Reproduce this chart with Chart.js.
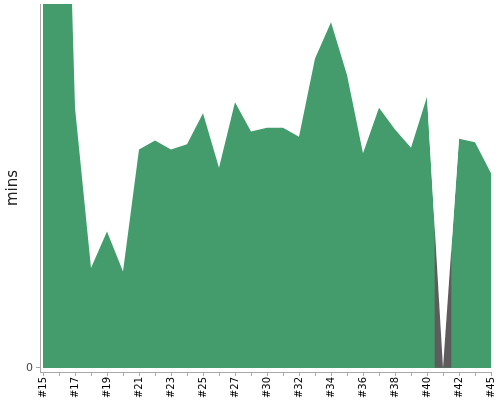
<!DOCTYPE html>
<html>
<head>
<meta charset="utf-8">
<script src="https://cdn.jsdelivr.net/npm/chart.js@4/dist/chart.umd.min.js"></script>
<style>
  html, body { margin: 0; padding: 0; background: #fff; }
  #wrap { width: 500px; height: 400px; }
</style>
</head>
<body>
<div id="wrap"><canvas id="trend" width="500" height="400"></canvas></div>
<script>
// build numbers on the x axis
const builds = ['#15', '#16', '#17', '#18', '#19', '#20', '#21', '#22', '#23', '#24',
  '#25', '#26', '#27', '#28', '#30', '#31', '#32', '#33', '#34', '#35',
  '#36', '#37', '#38', '#39', '#40', '#41', '#42', '#43', '#45'];

// build duration (mins) of successful builds
const buildMins = [40, 45, 14.3, 5.5, 7.5, 5.3, 12.0, 12.5, 12.0, 12.3,
  14.0, 11.0, 14.6, 13.0, 13.2, 13.2, 12.7, 17.0, 19.0, 16.1,
  11.8, 14.3, 13.1, 12.1, 14.9, 0, 12.6, 12.4, 10.7];

// aborted build (grey)
const abortedMins = [null, null, null, null, null, null, null, null, null, null,
  null, null, null, null, null, null, null, null, null, null,
  null, null, null, null, null, 9, null, null, null];

const yMax = 20;
const yMin = -0.22;

// white mask above the line around the aborted build
const maskMins = buildMins.map((v, i) => (i >= 24 && i <= 26) ? v : null);

const axisGrey = '#a8a8a8';

new Chart(document.getElementById('trend'), {
  type: 'line',
  data: {
    labels: builds,
    datasets: [
      {
        data: maskMins,
        backgroundColor: '#ffffff',
        fill: 'end',
        borderWidth: 0,
        pointRadius: 0,
        spanGaps: false,
        order: 1
      },
      {
        type: 'bar',
        data: abortedMins,
        backgroundColor: '#5c5c5c',
        borderWidth: 0,
        barPercentage: 1,
        categoryPercentage: 1,
        order: 2
      },
      {
        data: buildMins,
        backgroundColor: '#449c6c',
        borderColor: '#449c6c',
        fill: 'origin',
        borderWidth: 0,
        pointRadius: 0,
        tension: 0,
        order: 3
      }
    ]
  },
  options: {
    responsive: false,
    animation: false,
    layout: { padding: { top: 4, right: 9, left: 0, bottom: 0 } },
    plugins: { legend: { display: false }, tooltip: { enabled: false } },
    scales: {
      x: {
        type: 'category',
        offset: false,
        grid: { offset: false, drawOnChartArea: false, color: axisGrey, tickLength: 4 },
        border: { color: axisGrey },
        ticks: {
          autoSkip: false,
          minRotation: 90,
          maxRotation: 90,
          padding: 1,
          color: '#000',
          font: { family: 'DejaVu Sans', size: 10 },
          callback: (v, i) => (i % 2 === 0 ? builds[i] : '')
        },
        // small gap between the y axis and the first build
        afterBuildTicks: s => { s._startValue = -0.1875; s._valueRange = 28.1875; },
        afterFit: s => { s.height = 28; s.paddingLeft = 0; s.paddingRight = 0; }
      },
      y: {
        min: yMin,
        max: yMax,
        grid: { drawOnChartArea: false, color: axisGrey, tickLength: 4 },
        border: { color: axisGrey },
        ticks: {
          color: '#444',
          padding: 3,
          font: { family: 'DejaVu Sans', size: 11 }
        },
        afterBuildTicks: s => { s.ticks = [{ value: 0 }]; },
        afterFit: s => { s.width = 40; s.paddingTop = 0; s.paddingBottom = 0; },
        title: {
          display: true,
          text: 'mins',
          color: '#222',
          padding: { top: 4, bottom: 4 },
          font: { family: 'DejaVu Sans', size: 15 }
        }
      }
    }
  }
});
</script>
</body>
</html>
